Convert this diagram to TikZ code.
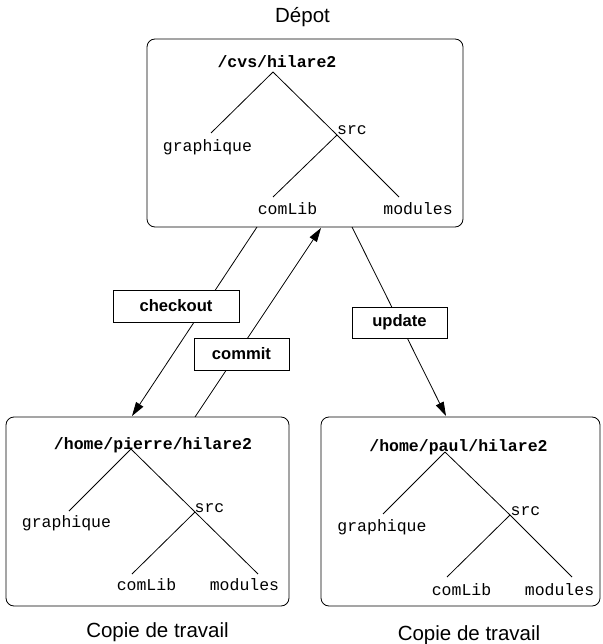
\documentclass[tikz,border=0pt]{standalone}
\usepackage{fontspec}
\newfontfamily\monof{Liberation Mono}
\newfontfamily\sansf{Liberation Sans}
\usetikzlibrary{arrows.meta}
\begin{document}
\begin{tikzpicture}[x=1pt,y=-1pt,
  every node/.style={inner sep=0pt},
  repo/.style={draw,line width=0.8pt,rounded corners=8pt},
  dir/.style={font=\monof\fontsize{16.5pt}{18pt}\selectfont},
  rootdir/.style={font=\monof\bfseries\fontsize{16.5pt}{18pt}\selectfont},
  lab/.style={draw,fill=white,line width=0.8pt,font=\sansf\bfseries\fontsize{16.6pt}{18pt}\selectfont},
  title/.style={font=\sansf\fontsize{20.5pt}{22pt}\selectfont},
  branch/.style={line width=0.8pt},
  flow/.style={line width=0.8pt,-{Triangle[length=14pt,width=8.5pt]}}]
\useasboundingbox (0,0) rectangle (602,644);

% ---------- Depot ----------
\node[repo,minimum width=316pt,minimum height=188pt] (top) at (305,133) {};
\node[title] (tt) at (302.5,17) {Dépot};
\node[rootdir] (tr) at (277,62) {/cvs/hilare2};
\node[dir] (tg) at (207.5,147) {graphique};
\node[dir] (ts) at (352,130) {src};
\node[dir] (tc) at (287.5,209) {comLib};
\node[dir] (tm) at (418,209) {modules};
\coordinate (ta) at (273,72);
\coordinate (tj) at (337,135);
\coordinate (tge) at (211,133);
\coordinate (tce) at (273,197);
\coordinate (tme) at (399,197);
\draw[branch] (ta) -- (tge);
\draw[branch] (ta) -- (tj) -- (tme);
\draw[branch] (tj) -- (tce);

% ---------- Pierre ----------
\node[repo,minimum width=283pt,minimum height=189pt] (lb) at (147.5,511.5) {};
\node[title] (lt) at (157.5,632) {Copie de travail};
\node[rootdir] (lr) at (153,445) {/home/pierre/hilare2};
\node[dir] (lg) at (66.5,523) {graphique};
\node[dir] (ls) at (209.5,508) {src};
\node[dir] (lc) at (146.5,585) {comLib};
\node[dir] (lm) at (244.5,585) {modules};
\coordinate (la) at (131,449);
\coordinate (lj) at (195,512);
\coordinate (lge) at (69,511);
\coordinate (lce) at (132,574);
\coordinate (lme) at (258,574);
\draw[branch] (la) -- (lge);
\draw[branch] (la) -- (lj) -- (lme);
\draw[branch] (lj) -- (lce);

% ---------- Paul ----------
\node[repo,minimum width=279pt,minimum height=189pt] (rb) at (460.5,511.5) {};
\node[title] (rt) at (469,635) {Copie de travail};
\node[rootdir] (rr) at (458.5,447) {/home/paul/hilare2};
\node[dir] (rg) at (382,527) {graphique};
\node[dir] (rs) at (525.5,511) {src};
\node[dir] (rc) at (461.5,590) {comLib};
\node[dir] (rm) at (559.5,590) {modules};
\coordinate (ra) at (445,452);
\coordinate (rj) at (510,515);
\coordinate (rge) at (383,514);
\coordinate (rce) at (447,577);
\coordinate (rme) at (572,577);
\draw[branch] (ra) -- (rge);
\draw[branch] (ra) -- (rj) -- (rme);
\draw[branch] (rj) -- (rce);

% ---------- flows ----------
\coordinate (cos) at (257,227);
\coordinate (coe) at (132,416);
\coordinate (cms) at (195,417);
\coordinate (cme) at (321,228);
\coordinate (ups) at (352,227);
\coordinate (upe) at (446,416);
\draw[flow] (cos) -- (coe);
\draw[flow] (cms) -- (cme);
\draw[flow] (ups) -- (upe);
\node[lab,minimum width=126pt,minimum height=32pt] (co) at (176,306) {checkout};
\node[lab,minimum width=95pt,minimum height=32pt] (cm) at (241.5,354) {commit};
\node[lab,minimum width=95pt,minimum height=31pt] (up) at (399.5,322.5) {update};
\end{tikzpicture}
\end{document}
